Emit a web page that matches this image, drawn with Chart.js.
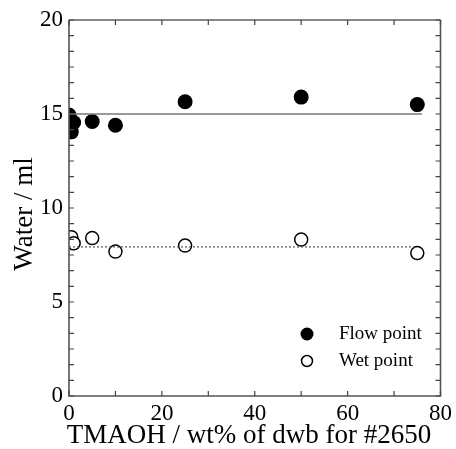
<!DOCTYPE html>
<html>
<head>
<meta charset="utf-8">
<script src="https://cdn.jsdelivr.net/npm/chart.js@4"></script>
<style>
html,body{margin:0;padding:0;background:#fff;}
#wrap{width:456px;height:449px;position:relative;}
</style>
</head>
<body>
<div id="wrap"><canvas id="c" width="456" height="449"></canvas></div>
<script>
// ---- data ----
const flowX = [0, 0.5, 1, 5, 10, 25, 50, 75];
const flowY = [14.95, 14.05, 14.55, 14.6, 14.4, 15.65, 15.9, 15.5];
const wetX = [0.5, 1, 5, 10, 25, 50, 75];
const wetY = [8.45, 8.12, 8.4, 7.68, 8.0, 8.32, 7.6];
const flowLineX = [0, 76];
const flowLineY = [15.0, 15.0];
const wetLineX = [0, 75];
const wetLineY = [7.93, 7.93];
const xTicks = [0, 20, 40, 60, 80];
const yTicks = [0, 5, 10, 15, 20];
const legendLabels = ['Flow point', 'Wet point'];
const xTitle = 'TMAOH / wt% of dwb for #2650';
const yTitle = 'Water / ml';

const FONT = "'Liberation Serif', 'Times New Roman', serif";
Chart.defaults.font.family = FONT;
Chart.defaults.color = '#000';
const zip = (xs, ys) => xs.map((x, i) => ({x: x, y: ys[i]}));

const frameTicks = {
  id: 'frameTicks',
  afterDraw(chart) {
    const {ctx, chartArea: a, scales} = chart;
    const xs = scales.x, ys = scales.y;
    ctx.save();
    ctx.lineWidth = 1;
    ctx.strokeStyle = '#111';
    ctx.beginPath();
    ctx.moveTo(a.left, a.top); ctx.lineTo(a.right, a.top);
    ctx.stroke();
    ctx.strokeStyle = '#555';
    ctx.lineWidth = 1.6;
    ctx.beginPath();
    ctx.moveTo(a.left, a.top); ctx.lineTo(a.left, a.bottom); ctx.lineTo(a.right, a.bottom); ctx.lineTo(a.right, a.top);
    ctx.stroke();
    ctx.strokeStyle = '#444';
    ctx.lineWidth = 1.2;
    ctx.beginPath();
    const L = 5;
    for (let v = 0; v <= 80 + 1e-9; v += 10) {
      const px = xs.getPixelForValue(v);
      ctx.moveTo(px, a.bottom); ctx.lineTo(px, a.bottom - L);
      ctx.moveTo(px, a.top); ctx.lineTo(px, a.top + L);
    }
    for (let i = 0; i <= 24; i++) {
      const v = i * 5 / 6;
      const py = ys.getPixelForValue(v);
      ctx.moveTo(a.left, py); ctx.lineTo(a.left + L, py);
      ctx.moveTo(a.right, py); ctx.lineTo(a.right - L, py);
    }
    ctx.stroke();
    // axis titles
    ctx.fillStyle = '#000';
    ctx.textBaseline = 'middle';
    ctx.textAlign = 'center';
    ctx.font = '27px ' + FONT;
    ctx.fillText(xTitle, 249, 436);
    ctx.save();
    ctx.translate(25, 214);
    ctx.rotate(-Math.PI / 2);
    ctx.fillText(yTitle, 0, 0);
    ctx.restore();
    // legend
    ctx.font = '19px ' + FONT;
    ctx.textAlign = 'left';
    const lx = 307, ly = [334, 361];
    ctx.beginPath(); ctx.arc(lx, ly[0], 6.5, 0, Math.PI * 2); ctx.fill();
    ctx.beginPath(); ctx.arc(lx, ly[1], 5.5, 0, Math.PI * 2);
    ctx.fillStyle = '#fff'; ctx.fill();
    ctx.strokeStyle = '#000'; ctx.lineWidth = 1.5; ctx.stroke();
    ctx.fillStyle = '#000';
    ctx.fillText(legendLabels[0], 339, ly[0]);
    ctx.fillText(legendLabels[1], 339, ly[1]);
    ctx.restore();
  }
};

new Chart(document.getElementById('c'), {
  type: 'scatter',
  data: {
    datasets: [
      {
        label: legendLabels[0] + ' mean', type: 'line', data: zip(flowLineX, flowLineY),
        borderColor: '#777', borderWidth: 1.5, pointRadius: 0, fill: false, clip: 0
      },
      {
        label: legendLabels[1] + ' mean', type: 'line', data: zip(wetLineX, wetLineY),
        borderColor: '#555', borderWidth: 1.2, borderDash: [2, 2], pointRadius: 0, fill: false, clip: 0
      },
      {
        label: legendLabels[0], data: zip(flowX, flowY),
        pointRadius: 7.5, pointBackgroundColor: '#000', pointBorderColor: '#000', pointBorderWidth: 0, clip: 0
      },
      {
        label: legendLabels[1], data: zip(wetX, wetY),
        pointRadius: 6.5, pointBackgroundColor: '#fff', pointBorderColor: '#000', pointBorderWidth: 1.5, clip: 0
      }
    ]
  },
  options: {
    responsive: false,
    animation: false,
    devicePixelRatio: 1,
    layout: {padding: {left: 0, top: 20, right: 11, bottom: 0}},
    plugins: {legend: {display: false}, tooltip: {enabled: false}},
    scales: {
      x: {
        type: 'linear', min: 0, max: 80,
        afterBuildTicks(s) { s.ticks = xTicks.map(v => ({value: v})); },
        afterFit(s) { s.height = 53; },
        grid: {display: false, drawTicks: false},
        border: {display: false},
        ticks: {color: '#000', font: {family: FONT, size: 23}, padding: 4, maxRotation: 0},
        title: {display: false}
      },
      y: {
        type: 'linear', min: 0, max: 20,
        afterBuildTicks(s) { s.ticks = yTicks.map(v => ({value: v})); },
        afterFit(s) { s.width = 69; },
        grid: {display: false, drawTicks: false},
        border: {display: false},
        ticks: {color: '#000', font: {family: FONT, size: 23}, padding: 6},
        title: {display: false}
      }
    }
  },
  plugins: [frameTicks]
});
</script>
</body>
</html>
